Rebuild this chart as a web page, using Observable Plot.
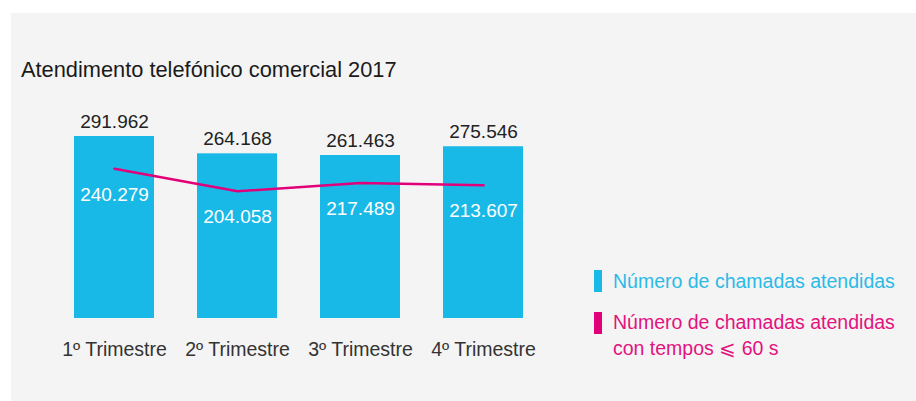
<!DOCTYPE html>
<html>
<head>
<meta charset="utf-8">
<script src="https://cdn.jsdelivr.net/npm/d3@7"></script>
<script src="https://cdn.jsdelivr.net/npm/@observablehq/plot@0.6"></script>
<style>
  html, body { margin: 0; padding: 0; background: #ffffff; }
  body { width: 916px; height: 401px; position: relative; overflow: hidden; font-family: "Liberation Sans", Arial, sans-serif; }
  #panel { position: absolute; left: 11px; top: 13px; width: 905px; height: 388px; background: #f4f4f4; }
  #title { position: absolute; left: 21px; top: 57px; font-size: 21.8px; color: #1a1a1a; white-space: nowrap; line-height: 26px; }
  #chart { position: absolute; left: 0; top: 90px; }
  .legend { position: absolute; left: 594px; font-size: 19.5px; line-height: 26px; white-space: nowrap; }
  .legend .sw { position: absolute; left: 0; width: 8px; height: 22px; }
  .legend .tx { position: absolute; left: 19px; }
</style>
</head>
<body>
<div id="panel"></div>
<div id="title">Atendimento telefónico comercial 2017</div>
<div id="chart"></div>
<div class="legend" id="leg1" style="top:270px;">
  <div class="sw" style="background:#19b9e7;top:0;"></div>
  <div class="tx" style="color:#2bbae6;top:-2px;">Número de chamadas atendidas</div>
</div>
<div class="legend" id="leg2" style="top:312px;">
  <div class="sw" style="background:#e2007a;top:0;"></div>
  <div class="tx" style="color:#e2127f;top:-3px;">Número de chamadas atendidas<br>con tempos ⩽ 60 s</div>
</div>
<script>
const trimestres = ["1º Trimestre", "2º Trimestre", "3º Trimestre", "4º Trimestre"];
const atendidas = [291962, 264168, 261463, 275546];
const atendidas60 = [240279, 204058, 217489, 213607];

const fmt = d3.formatLocale({decimal: ",", thousands: ".", grouping: [3], currency: ["", ""]}).format(",d");

const rows = trimestres.map((t, i) => ({trimestre: t, total: atendidas[i], rapidas: atendidas60[i]}));

const chart = Plot.plot({
  width: 560,
  height: 280,
  marginLeft: 52.5,
  marginRight: 15.5,
  marginTop: 41,
  marginBottom: 52,
  style: {fontFamily: "'Liberation Sans', Arial, sans-serif", background: "transparent", overflow: "visible"},
  x: {domain: trimestres, paddingInner: 0.35, paddingOuter: 0.175, label: null},
  y: {domain: [0, 300000], axis: null},
  marks: [
    Plot.barY(rows, {x: "trimestre", y: "total", fill: "#19b9e7"}),
    Plot.line(rows, {x: "trimestre", y: "rapidas", stroke: "#e2007a", strokeWidth: 2.5}),
    Plot.text(rows, {x: "trimestre", y: "total", text: d => fmt(d.total), dy: -15, fontSize: 19, fill: "#222"}),
    Plot.text(rows, {x: "trimestre", y: "rapidas", text: d => fmt(d.rapidas), dy: 26, fontSize: 19, fill: "#ffffff"}),
    Plot.axisX({tickSize: 0, tickPadding: 24, fontSize: 19.5, color: "#333", label: null})
  ]
});
document.getElementById("chart").appendChild(chart);
</script>
</body>
</html>
